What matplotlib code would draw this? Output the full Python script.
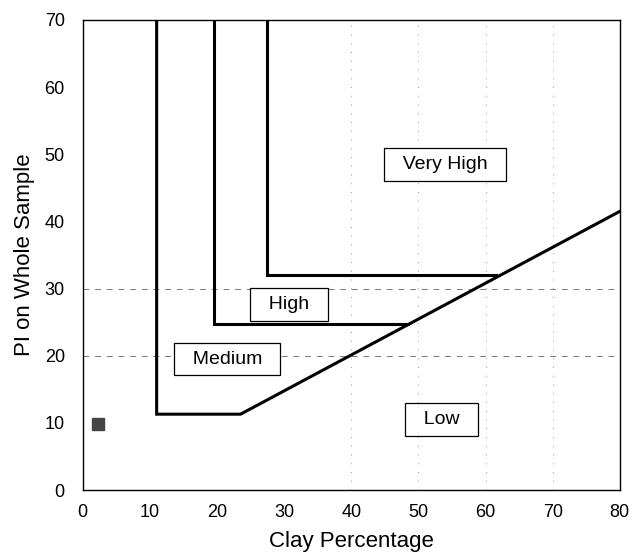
import matplotlib.pyplot as plt

plt.rcParams['font.family'] = ['Liberation Sans', 'DejaVu Sans']

# zone boundary lines (clay %, PI)
medium_x = [11, 11, 23.5, 80]
medium_y = [70, 11.3, 11.3, 41.5]
high_x = [19.5, 19.5, 48.5]
high_y = [70, 24.8, 24.8]
vhigh_x = [27.5, 27.5, 61.5]
vhigh_y = [70, 32, 32]

# zone labels
labels = ["Very High", "High", "Medium", "Low"]
label_x = [54, 30.7, 21.5, 53.5]
label_y = [48.5, 27.6, 19.5, 10.5]

# sample point
sample_x = [2.2]
sample_y = [9.8]

fig = plt.figure(figsize=(6.37, 5.55), dpi=100)
ax = fig.add_axes([0.13, 0.117, 0.843, 0.847])

# faint grid remnants
for yv in [20, 30]:
    ax.axhline(yv, color='#777777', lw=0.7, ls=(0, (6, 6)), zorder=0)
for xv in [40, 50, 60, 70]:
    ax.axvline(xv, color='#999999', lw=0.7, ls=(0, (1, 8)), zorder=0)

ax.plot(medium_x, medium_y, color='black', lw=2.2, solid_joinstyle='miter')
ax.plot(high_x, high_y, color='black', lw=2.2, solid_joinstyle='miter')
ax.plot(vhigh_x, vhigh_y, color='black', lw=2.2, solid_joinstyle='miter')

for t, x, y in zip(labels, label_x, label_y):
    ax.text(x, y, "  " + t + "  ", ha='center', va='center', fontsize=14,
            bbox=dict(boxstyle='square,pad=0.4', fc='white', ec='black', lw=0.9))

ax.plot(sample_x, sample_y, marker='s', ms=8, color='#444444', ls='none')

ax.set_xlim(0, 80)
ax.set_ylim(0, 70)
ax.set_xticks(range(0, 81, 10))
ax.set_yticks(range(0, 71, 10))
ax.tick_params(axis='x', length=0, labelsize=13, pad=10)
ax.tick_params(axis='y', length=0, labelsize=13, pad=13)
ax.set_xlabel("Clay Percentage", fontsize=16, labelpad=7)
ax.set_ylabel("PI on Whole Sample", fontsize=16, labelpad=7)
for s in ax.spines.values():
    s.set_linewidth(1.0)

plt.savefig("out.png", dpi=100)
